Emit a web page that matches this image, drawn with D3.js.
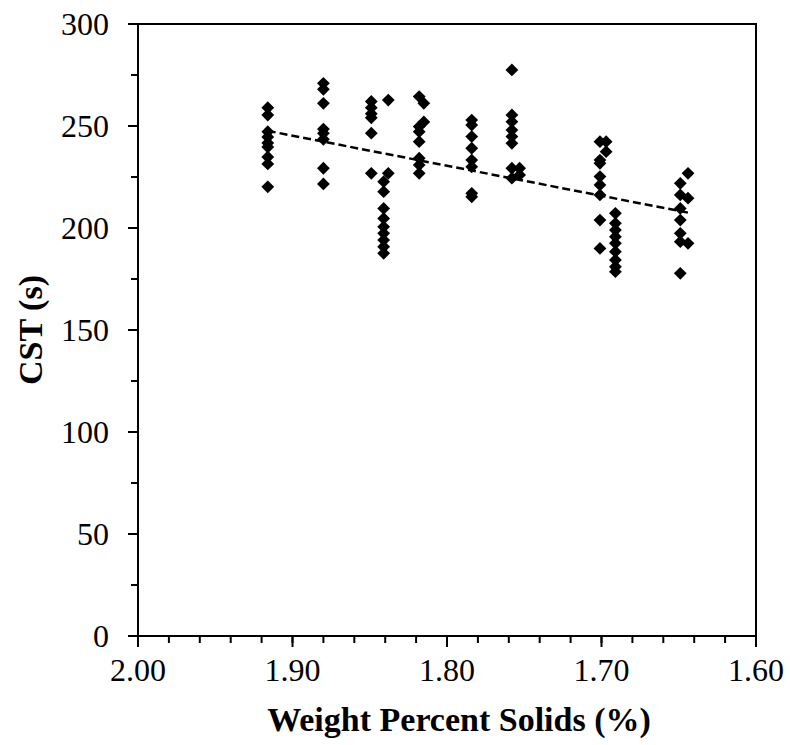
<!DOCTYPE html>
<html><head><meta charset="utf-8">
<script src="https://cdn.jsdelivr.net/npm/d3@7"></script>
<style>body{margin:0;background:#fff}svg{display:block}text{font-family:"Liberation Serif","Times New Roman",serif;fill:#000}</style>
</head><body><svg id="c" width="790" height="745"></svg>
<script>
// Data: each column of readings (weight percent solids) and its CST values (s)
const solids = [1.916, 1.880, 1.849, 1.841, 1.838, 1.818, 1.815, 1.784, 1.758, 1.753, 1.701, 1.697, 1.691, 1.649, 1.644];
const cstValues = [
  [259, 255.4, 247.2, 244.6, 241.7, 239.7, 234.8, 231.4, 220.2],
  [270.9, 268, 261.1, 248.5, 246.4, 243.5, 229.3, 221.6],
  [262, 259, 256, 254, 246.5, 226.8],
  [222.7, 217.8, 209.6, 204.7, 200.6, 197.4, 194.1, 190.8, 187.6],
  [262.7, 226.8],
  [264.4, 249.7, 247.2, 242.3, 234.2, 230.9, 226.8],
  [261.1, 252],
  [252.9, 250.5, 244.8, 239.1, 233.3, 230, 217, 215.3],
  [277.5, 255.4, 252.1, 248, 244.8, 241.5, 229.3, 224.4],
  [229.3, 226],
  [242.3, 233.3, 231.7, 225.2, 221.1, 216.2, 203.9, 190],
  [242.3, 237.4],
  [207.2, 202.3, 199, 195.7, 192.5, 188.4, 184.3, 181, 178.6],
  [221.9, 216.2, 209.6, 203.9, 197.4, 193.3, 177.8],
  [226.8, 214.6, 192.5]
];
const xTicks = [2.00, 1.90, 1.80, 1.70, 1.60];
const yTicks = [0, 50, 100, 150, 200, 250, 300];
const xTitle = "Weight Percent Solids (%)";
const yTitle = "CST (s)";

const points = [];
solids.forEach((s, i) => cstValues[i].forEach(v => points.push({x: s, y: v})));

const L = 138, R = 756, T = 24, B = 636;
const svg = d3.select("#c");
const x = d3.scaleLinear().domain([2.00, 1.60]).range([L, R]);
const y = d3.scaleLinear().domain([0, 300]).range([B, T]);

// frame
svg.append("rect").attr("x", L).attr("y", T).attr("width", R - L).attr("height", B - T)
  .attr("fill", "none").attr("stroke", "#000").attr("stroke-width", 2);

// x axis minor + major ticks
const xMinor = d3.range(0, 21).map(i => 2.00 - i * 0.02);
svg.append("g").selectAll("line").data(xMinor).join("line")
  .attr("x1", d => x(d)).attr("x2", d => x(d)).attr("y1", B).attr("y2", B + 7)
  .attr("stroke", "#000").attr("stroke-width", 2);
svg.append("g").selectAll("line").data(xTicks).join("line")
  .attr("x1", d => x(d)).attr("x2", d => x(d)).attr("y1", B).attr("y2", B + 11)
  .attr("stroke", "#000").attr("stroke-width", 2);
svg.append("g").selectAll("text").data(xTicks).join("text")
  .attr("x", d => x(d)).attr("y", B + 45).attr("text-anchor", "middle")
  .attr("font-size", 32).text(d => d3.format(".2f")(d));

// y axis ticks
const yMinor = d3.range(0, 301, 25);
svg.append("g").selectAll("line").data(yMinor).join("line")
  .attr("x1", L - 7).attr("x2", L).attr("y1", d => y(d)).attr("y2", d => y(d))
  .attr("stroke", "#000").attr("stroke-width", 2);
svg.append("g").selectAll("line").data(yTicks).join("line")
  .attr("x1", L - 10).attr("x2", L).attr("y1", d => y(d)).attr("y2", d => y(d))
  .attr("stroke", "#000").attr("stroke-width", 2);
svg.append("g").selectAll("text").data(yTicks).join("text")
  .attr("x", L - 29).attr("y", d => y(d) + 11).attr("text-anchor", "end")
  .attr("font-size", 32).text(d => d);

// titles
svg.append("text").attr("x", (L + R) / 2 + 12).attr("y", 731).attr("text-anchor", "middle")
  .attr("font-size", 34).attr("font-weight", "bold").text(xTitle);
svg.append("text").attr("transform", `translate(42,${(T + B) / 2}) rotate(-90)`)
  .attr("text-anchor", "middle").attr("font-size", 34).attr("font-weight", "bold").text(yTitle);

// points (diamonds)
const h = 6.4;
svg.append("g").selectAll("path").data(points).join("path")
  .attr("d", d => `M${x(d.x)},${y(d.y) - h}L${x(d.x) + h},${y(d.y)}L${x(d.x)},${y(d.y) + h}L${x(d.x) - h},${y(d.y)}Z`)
  .attr("fill", "#000");

// linear trendline (least squares)
const mx = d3.mean(points, d => d.x), my = d3.mean(points, d => d.y);
const slope = d3.sum(points, d => (d.x - mx) * (d.y - my)) / d3.sum(points, d => (d.x - mx) ** 2);
const icpt = my - slope * mx;
const ext = d3.extent(points, d => d.x);
svg.append("line")
  .attr("x1", x(ext[1])).attr("y1", y(icpt + slope * ext[1]))
  .attr("x2", x(ext[0])).attr("y2", y(icpt + slope * ext[0]))
  .attr("stroke", "#000").attr("stroke-width", 2.5).attr("stroke-dasharray", "8,4");
</script></body></html>
